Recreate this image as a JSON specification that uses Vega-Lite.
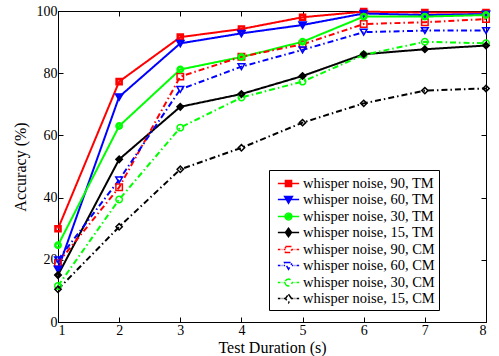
{
  "$schema": "https://vega.github.io/schema/vega-lite/v6.json",
  "width": 428,
  "height": 311,
  "autosize": "none",
  "padding": {"left": 58, "top": 11, "right": 13, "bottom": 34},
  "background": "white",
  "config": {
    "font": "Liberation Serif",
    "view": {"stroke": "black", "strokeWidth": 1},
    "axis": {
      "labelFont": "Liberation Serif",
      "titleFont": "Liberation Serif",
      "labelFontSize": 14,
      "titleFontSize": 16,
      "titleFontWeight": "normal",
      "labelColor": "black",
      "titleColor": "black",
      "domainColor": "black",
      "tickColor": "black",
      "grid": false,
      "tickSize": -5
    },
    "legend": {
      "labelFontSize": 14.5,
      "labelFont": "Liberation Serif",
      "labelColor": "black"
    }
  },
  "data": {
    "values": [
      {"s": "whisper noise, 90, TM", "t": 1, "acc": 30},
      {"s": "whisper noise, 90, TM", "t": 2, "acc": 77.3},
      {"s": "whisper noise, 90, TM", "t": 3, "acc": 91.6},
      {"s": "whisper noise, 90, TM", "t": 4, "acc": 94.2},
      {"s": "whisper noise, 90, TM", "t": 5, "acc": 98},
      {"s": "whisper noise, 90, TM", "t": 6, "acc": 99.8},
      {"s": "whisper noise, 90, TM", "t": 7, "acc": 99.5},
      {"s": "whisper noise, 90, TM", "t": 8, "acc": 99.5},
      {"s": "whisper noise, 60, TM", "t": 1, "acc": 17},
      {"s": "whisper noise, 60, TM", "t": 2, "acc": 72.4},
      {"s": "whisper noise, 60, TM", "t": 3, "acc": 89.6},
      {"s": "whisper noise, 60, TM", "t": 4, "acc": 92.8},
      {"s": "whisper noise, 60, TM", "t": 5, "acc": 95.5},
      {"s": "whisper noise, 60, TM", "t": 6, "acc": 99.2},
      {"s": "whisper noise, 60, TM", "t": 7, "acc": 98.7},
      {"s": "whisper noise, 60, TM", "t": 8, "acc": 99},
      {"s": "whisper noise, 30, TM", "t": 1, "acc": 24.7},
      {"s": "whisper noise, 30, TM", "t": 2, "acc": 63},
      {"s": "whisper noise, 30, TM", "t": 3, "acc": 81.2},
      {"s": "whisper noise, 30, TM", "t": 4, "acc": 85.2},
      {"s": "whisper noise, 30, TM", "t": 5, "acc": 90.1},
      {"s": "whisper noise, 30, TM", "t": 6, "acc": 98.2},
      {"s": "whisper noise, 30, TM", "t": 7, "acc": 98.2},
      {"s": "whisper noise, 30, TM", "t": 8, "acc": 98.7},
      {"s": "whisper noise, 15, TM", "t": 1, "acc": 15.1},
      {"s": "whisper noise, 15, TM", "t": 2, "acc": 52.3},
      {"s": "whisper noise, 15, TM", "t": 3, "acc": 69.2},
      {"s": "whisper noise, 15, TM", "t": 4, "acc": 73.3},
      {"s": "whisper noise, 15, TM", "t": 5, "acc": 79.1},
      {"s": "whisper noise, 15, TM", "t": 6, "acc": 86.1},
      {"s": "whisper noise, 15, TM", "t": 7, "acc": 87.7},
      {"s": "whisper noise, 15, TM", "t": 8, "acc": 88.9},
      {"s": "whisper noise, 90, CM", "t": 1, "acc": 19},
      {"s": "whisper noise, 90, CM", "t": 2, "acc": 43.3},
      {"s": "whisper noise, 90, CM", "t": 3, "acc": 78.9},
      {"s": "whisper noise, 90, CM", "t": 4, "acc": 85.3},
      {"s": "whisper noise, 90, CM", "t": 5, "acc": 89.3},
      {"s": "whisper noise, 90, CM", "t": 6, "acc": 95.8},
      {"s": "whisper noise, 90, CM", "t": 7, "acc": 96.4},
      {"s": "whisper noise, 90, CM", "t": 8, "acc": 97.4},
      {"s": "whisper noise, 60, CM", "t": 1, "acc": 20},
      {"s": "whisper noise, 60, CM", "t": 2, "acc": 45.7},
      {"s": "whisper noise, 60, CM", "t": 3, "acc": 74.8},
      {"s": "whisper noise, 60, CM", "t": 4, "acc": 82.1},
      {"s": "whisper noise, 60, CM", "t": 5, "acc": 87.5},
      {"s": "whisper noise, 60, CM", "t": 6, "acc": 93.2},
      {"s": "whisper noise, 60, CM", "t": 7, "acc": 93.7},
      {"s": "whisper noise, 60, CM", "t": 8, "acc": 93.7},
      {"s": "whisper noise, 30, CM", "t": 1, "acc": 11.6},
      {"s": "whisper noise, 30, CM", "t": 2, "acc": 39.4},
      {"s": "whisper noise, 30, CM", "t": 3, "acc": 62.5},
      {"s": "whisper noise, 30, CM", "t": 4, "acc": 72.2},
      {"s": "whisper noise, 30, CM", "t": 5, "acc": 77.3},
      {"s": "whisper noise, 30, CM", "t": 6, "acc": 85.9},
      {"s": "whisper noise, 30, CM", "t": 7, "acc": 90.1},
      {"s": "whisper noise, 30, CM", "t": 8, "acc": 89.6},
      {"s": "whisper noise, 15, CM", "t": 1, "acc": 10.5},
      {"s": "whisper noise, 15, CM", "t": 2, "acc": 30.6},
      {"s": "whisper noise, 15, CM", "t": 3, "acc": 49.1},
      {"s": "whisper noise, 15, CM", "t": 4, "acc": 56},
      {"s": "whisper noise, 15, CM", "t": 5, "acc": 64.1},
      {"s": "whisper noise, 15, CM", "t": 6, "acc": 70.3},
      {"s": "whisper noise, 15, CM", "t": 7, "acc": 74.4},
      {"s": "whisper noise, 15, CM", "t": 8, "acc": 75.1}
    ]
  },
  "resolve": {"axis": {"x": "independent", "y": "independent"}},
  "layer": [
    {
      "mark": {"type": "line", "strokeWidth": 2},
      "encoding": {
        "x": {"field": "t", "type": "quantitative", "scale": {"domain": [1, 8], "nice": false},
          "axis": {"values": [1, 2, 3, 4, 5, 6, 7, 8], "title": "Test Duration (s)", "labelPadding": 6, "titlePadding": 2}},
        "y": {"field": "acc", "type": "quantitative", "scale": {"domain": [0, 100], "nice": false},
          "axis": {"values": [0, 20, 40, 60, 80, 100], "title": "Accuracy (%)", "labelPadding": 6, "titlePadding": 8}},
        "color": {"field": "s", "type": "nominal",
          "scale": {
            "domain": ["whisper noise, 90, TM", "whisper noise, 60, TM", "whisper noise, 30, TM", "whisper noise, 15, TM", "whisper noise, 90, CM", "whisper noise, 60, CM", "whisper noise, 30, CM", "whisper noise, 15, CM"],
            "range": ["#ff0000", "#0000ff", "#00ff00", "#000000", "#ff0000", "#0000ff", "#00ff00", "#000000"]
          }
        },
        "strokeDash": {"field": "s", "type": "nominal",
          "scale": {
            "domain": ["whisper noise, 90, TM", "whisper noise, 60, TM", "whisper noise, 30, TM", "whisper noise, 15, TM", "whisper noise, 90, CM", "whisper noise, 60, CM", "whisper noise, 30, CM", "whisper noise, 15, CM"],
            "range": [[1, 0], [1, 0], [1, 0], [1, 0], [6, 3, 1.5, 3], [6, 3, 1.5, 3], [6, 3, 1.5, 3], [6, 3, 1.5, 3]]
          },
          "legend": null
        }
      }
    },
    {
      "transform": [{"filter": "indexof(datum.s, ', 90,') >= 0"}],
      "mark": {"type": "point", "shape": "square", "filled": false, "opacity": 1},
      "encoding": {
        "x": {"field": "t", "type": "quantitative", "axis": {"orient": "top", "values": [1, 2, 3, 4, 5, 6, 7, 8], "labels": false, "title": null, "domain": false}},
        "y": {"field": "acc", "type": "quantitative", "axis": {"orient": "right", "values": [0, 20, 40, 60, 80, 100], "labels": false, "title": null, "domain": false}},
        "color": {"field": "s", "type": "nominal"},
        "size": {"condition": {"test": "indexof(datum.s, 'TM') >= 0", "value": 25}, "value": 42},
        "strokeWidth": {"condition": {"test": "indexof(datum.s, 'TM') >= 0", "value": 2.6}, "value": 1.5}
      }
    },
    {
      "transform": [{"filter": "indexof(datum.s, ', 60,') >= 0"}],
      "mark": {"type": "point", "shape": "triangle-down", "filled": false, "opacity": 1},
      "encoding": {
        "x": {"field": "t", "type": "quantitative", "axis": null},
        "y": {"field": "acc", "type": "quantitative", "axis": null},
        "color": {"field": "s", "type": "nominal"},
        "size": {"condition": {"test": "indexof(datum.s, 'TM') >= 0", "value": 30}, "value": 45},
        "strokeWidth": {"condition": {"test": "indexof(datum.s, 'TM') >= 0", "value": 2.6}, "value": 1.5}
      }
    },
    {
      "transform": [{"filter": "indexof(datum.s, ', 30,') >= 0"}],
      "mark": {"type": "point", "shape": "circle", "filled": false, "opacity": 1},
      "encoding": {
        "x": {"field": "t", "type": "quantitative", "axis": null},
        "y": {"field": "acc", "type": "quantitative", "axis": null},
        "color": {"field": "s", "type": "nominal"},
        "size": {"condition": {"test": "indexof(datum.s, 'TM') >= 0", "value": 28}, "value": 42},
        "strokeWidth": {"condition": {"test": "indexof(datum.s, 'TM') >= 0", "value": 2.6}, "value": 1.5}
      }
    },
    {
      "transform": [{"filter": "indexof(datum.s, ', 15,') >= 0"}],
      "mark": {"type": "point", "shape": "diamond", "filled": false, "opacity": 1},
      "encoding": {
        "x": {"field": "t", "type": "quantitative", "axis": null},
        "y": {"field": "acc", "type": "quantitative", "axis": null},
        "color": {"field": "s", "type": "nominal"},
        "size": {"condition": {"test": "indexof(datum.s, 'TM') >= 0", "value": 25}, "value": 40},
        "strokeWidth": {"condition": {"test": "indexof(datum.s, 'TM') >= 0", "value": 2.6}, "value": 1.5}
      }
    },
    {
      "transform": [{"filter": "datum.t > 100"}],
      "mark": {"type": "point", "filled": false, "size": 289, "strokeWidth": 1.5, "opacity": 1},
      "encoding": {
        "x": {"field": "t", "type": "quantitative", "axis": null},
        "y": {"field": "acc", "type": "quantitative", "axis": null},
        "color": {"field": "s", "type": "nominal",
          "legend": {
            "title": null, "orient": "none", "legendX": 211, "legendY": 159,
            "padding": 4, "symbolOffset": 6, "symbolSize": 289, "symbolStrokeWidth": 1.5, "symbolOpacity": 1,
            "symbolFillColor": "transparent", "symbolDash": [1, 0],
            "labelOffset": 5, "rowPadding": 0, "labelLimit": 300,
            "strokeColor": "black", "fillColor": "white"
          }
        },
        "shape": {"field": "s", "type": "nominal",
          "scale": {
            "domain": ["whisper noise, 90, TM", "whisper noise, 60, TM", "whisper noise, 30, TM", "whisper noise, 15, TM", "whisper noise, 90, CM", "whisper noise, 60, CM", "whisper noise, 30, CM", "whisper noise, 15, CM"],
            "range": [
              "M-1.25,0H1.25M-0.36,-0.36H0.36V0.36H-0.36ZM-0.2,-0.2H0.2V0.2H-0.2ZM-0.06,-0.06H0.06V0.06H-0.06Z",
              "M-1.25,0H1.25M-0.46,-0.36H0.46L0,0.44ZM-0.24,-0.2H0.24L0,0.2ZM-0.06,-0.08H0.06L0,0.04Z",
              "M-1.25,0H1.25M-0.4,0A0.4,0.4 0 1,0 0.4,0A0.4,0.4 0 1,0 -0.4,0ZM-0.22,0A0.22,0.22 0 1,0 0.22,0A0.22,0.22 0 1,0 -0.22,0ZM-0.06,0A0.06,0.06 0 1,0 0.06,0A0.06,0.06 0 1,0 -0.06,0Z",
              "M-1.25,0H1.25M0,-0.5L0.36,0L0,0.5L-0.36,0ZM0,-0.28L0.18,0L0,0.28L-0.18,0ZM0,-0.08L0.05,0L0,0.08L-0.05,0Z",
              "M-1.25,0H-0.95M-0.8,0H-0.72M-0.57,0H-0.36M0.36,0H0.57M0.72,0H0.8M0.95,0H1.25M-0.36,-0.36H0.36V0.36H-0.36Z",
              "M-1.25,0H-0.95M-0.8,0H-0.72M-0.57,0H-0.4M0.4,0H0.57M0.72,0H0.8M0.95,0H1.25M-0.46,-0.36H0.46L0,0.44Z",
              "M-1.25,0H-0.95M-0.8,0H-0.72M-0.57,0H-0.4M0.4,0H0.57M0.72,0H0.8M0.95,0H1.25M-0.4,0A0.4,0.4 0 1,0 0.4,0A0.4,0.4 0 1,0 -0.4,0Z",
              "M-1.25,0H-0.95M-0.8,0H-0.72M-0.57,0H-0.36M0.36,0H0.57M0.72,0H0.8M0.95,0H1.25M0,-0.5L0.36,0L0,0.5L-0.36,0Z"
            ]
          },
          "legend": {
            "title": null, "orient": "none", "legendX": 211, "legendY": 159,
            "padding": 4, "symbolOffset": 6, "symbolSize": 289, "symbolStrokeWidth": 1.5, "symbolOpacity": 1,
            "symbolFillColor": "transparent", "symbolDash": [1, 0],
            "labelOffset": 5, "rowPadding": 0, "labelLimit": 300,
            "strokeColor": "black", "fillColor": "white"
          }
        }
      }
    }
  ]
}
